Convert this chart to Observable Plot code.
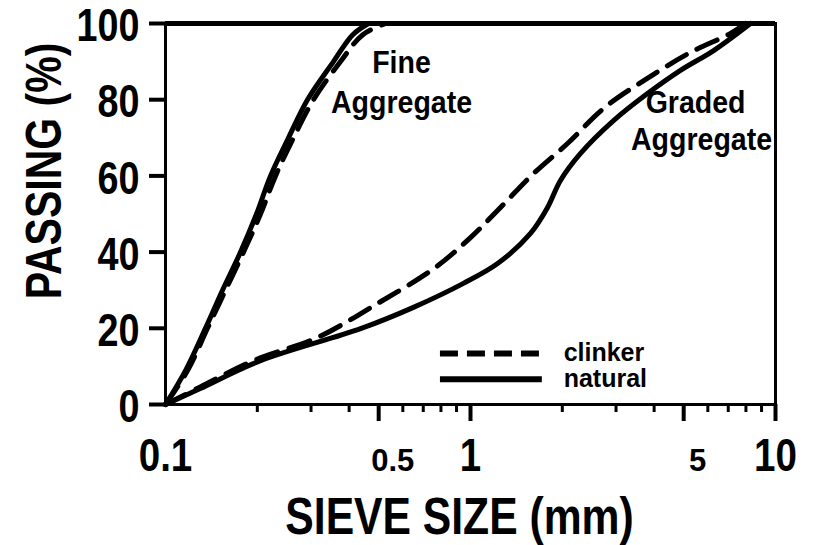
<!DOCTYPE html>
<html>
<head>
<meta charset="utf-8">
<script src="https://cdn.jsdelivr.net/npm/d3@7"></script>
<script src="https://cdn.jsdelivr.net/npm/@observablehq/plot@0.6"></script>
<style>
  html, body { margin: 0; padding: 0; background: #fff; }
</style>
</head>
<body>
<div id="chart"></div>
<script>
// ---- data (sieve size in mm, passing in %) ----
const fineNaturalX  = [0.1, 0.1163, 0.1352, 0.1538, 0.1762, 0.1988, 0.2210, 0.2531, 0.2921, 0.3554, 0.4104, 0.4630];
const fineNaturalY  = [0,   8.9,    20,     30,     40,     50,     60,     70,     80,     90,     97,     100];
const fineClinkerX  = [0.1, 0.1181, 0.1373, 0.1573, 0.1802, 0.2049, 0.2295, 0.2628, 0.3056, 0.3748, 0.4425, 0.5265];
const fineClinkerY  = [0,   8.9,    20,     30,     40,     50,     60,     70,     80,     90,     97,     100];
const gradedNaturalX = [0.1, 0.13, 0.205, 0.436, 0.650, 0.948, 1.227, 1.573, 1.789, 1.972, 2.295, 2.944, 3.804, 4.88, 6.27, 8.28];
const gradedNaturalY = [0,   4.2,  11.5,  19.9,  25.5,  31.8,  37.0,  44.9,  51.7,  58.8,  65.9,  74.5,  81.6,  87.7, 92.9, 100];
const gradedClinkerX = [0.1, 0.13, 0.194, 0.315, 0.4955, 0.768, 1.0,  1.254, 1.609, 2.08, 2.73, 3.80, 5.26, 7.12, 7.97];
const gradedClinkerY = [0,   4.6,  11.5,  17.6,  26.5,   36.0,  43.8, 51.7,  60.6,  68.5, 77.7, 85.6, 92.4, 97.4, 100];

// ---- axes ----
const yTicks = [0, 20, 40, 60, 80, 100];
const xMinorTicks = [0.2, 0.3, 0.4, 0.6, 0.7, 0.8, 0.9, 2, 3, 4, 6, 7, 8, 9];
const xMajorTicks = [0.5, 1, 5, 10];
const xBigLabels = [0.1, 1, 10];
const xSmallLabels = [0.5, 5];
const xTitle = "SIEVE SIZE (mm)";
const yTitle = "PASSING (%)";

// ---- annotations and legend ----
const noteText = ["Fine", "Aggregate", "Graded", "Aggregate"];
const noteX = [0.594, 0.594, 5.47, 5.72];
const noteY = [86.9, 76.4, 76.4, 66.7];
const legendLabels = ["clinker", "natural"];
const legendY = [13.4, 6.6];
const legendX1 = 0.797, legendX2 = 1.72, legendTextX = 2.02;

const toRows = (xs, ys) => xs.map((x, i) => ({x, y: ys[i]}));
const fineNatural = toRows(fineNaturalX, fineNaturalY);
const fineClinker = toRows(fineClinkerX, fineClinkerY);
const gradedNatural = toRows(gradedNaturalX, gradedNaturalY);
const gradedClinker = toRows(gradedClinkerX, gradedClinkerY);
const notes = noteText.map((t, i) => ({t, x: noteX[i], y: noteY[i]}));
const legend = legendLabels.map((label, i) => ({label, y: legendY[i], x1: legendX1, x2: legendX2, tx: legendTextX}));

const fontFamily = "'Liberation Sans', Arial, Helvetica, sans-serif";
const curveDash = "22,12";
const legendDash = "18,9";

const chart = Plot.plot({
  width: 814,
  height: 545,
  marginLeft: 165,
  marginRight: 39,
  marginTop: 23,
  marginBottom: 141,
  x: {type: "log", domain: [0.1, 10]},
  y: {domain: [0, 100]},
  style: {fontFamily, fontWeight: "bold", color: "black", background: "white", overflow: "visible"},
  marks: [
    Plot.line(fineNatural, {x: "x", y: "y", curve: "catmull-rom", stroke: "black", strokeWidth: 5}),
    Plot.line(fineClinker, {x: "x", y: "y", curve: "catmull-rom", stroke: "black", strokeWidth: 5, strokeDasharray: curveDash}),
    Plot.line(gradedNatural, {x: "x", y: "y", curve: "catmull-rom", stroke: "black", strokeWidth: 5}),
    Plot.line(gradedClinker, {x: "x", y: "y", curve: "catmull-rom", stroke: "black", strokeWidth: 5, strokeDasharray: curveDash}),
    Plot.frame({stroke: "black", strokeWidth: 3}),
    Plot.ruleY([100], {stroke: "black", strokeWidth: 5}),
    Plot.axisY(yTicks, {tickSize: 16, strokeWidth: 4, fill: "none", label: null}),
    Plot.text(yTicks, {y: d => d, frameAnchor: "left", dx: -26, dy: 3, text: d => String(d), fontSize: 46, textAnchor: "end", lineAnchor: "middle"}),
    Plot.axisX(xMinorTicks, {tickSize: 8, strokeWidth: 3, fill: "none", label: null}),
    Plot.axisX(xMajorTicks, {tickSize: 17, strokeWidth: 4, fill: "none", label: null}),
    Plot.text(xBigLabels, {x: d => d, frameAnchor: "bottom", dy: 33, text: d => String(d), fontSize: 47, textAnchor: "middle", lineAnchor: "top"}),
    Plot.text(xSmallLabels, {x: d => d, frameAnchor: "bottom", dx: 14, dy: 44, text: d => String(d), fontSize: 31, textAnchor: "middle", lineAnchor: "top"}),
    Plot.text([yTitle], {frameAnchor: "left", rotate: -90, dx: -121, dy: -43, fontSize: 50, textAnchor: "middle", lineAnchor: "middle"}),
    Plot.text([xTitle], {frameAnchor: "bottom", dx: -11, dy: 129, fontSize: 52, textAnchor: "middle", lineAnchor: "bottom"}),
    Plot.text(notes, {x: "x", y: "y", text: "t", fontSize: 31, textAnchor: "middle", lineAnchor: "bottom"}),
    Plot.ruleY(legend.filter(d => d.label === "clinker"), {x1: "x1", x2: "x2", y: "y", stroke: "black", strokeWidth: 6, strokeDasharray: legendDash}),
    Plot.ruleY(legend.filter(d => d.label === "natural"), {x1: "x1", x2: "x2", y: "y", stroke: "black", strokeWidth: 6}),
    Plot.text(legend, {x: "tx", y: "y", text: "label", fontSize: 25, textAnchor: "start", lineAnchor: "middle"})
  ]
});
document.getElementById("chart").appendChild(chart);

// Emulate the condensed (Helvetica Narrow) typeface of the original
chart.querySelectorAll("text").forEach(el => {
  const size = parseFloat(getComputedStyle(el).fontSize);
  let squeeze = 0.82;
  if (size <= 26) squeeze = 1;
  else if (size <= 32) squeeze = el.textContent.length > 3 ? 0.92 : 1;
  const len = el.getComputedTextLength();
  if (len > 0 && squeeze < 1) {
    el.setAttribute("textLength", (len * squeeze).toFixed(1));
    el.setAttribute("lengthAdjust", "spacingAndGlyphs");
  }
});
</script>
</body>
</html>
